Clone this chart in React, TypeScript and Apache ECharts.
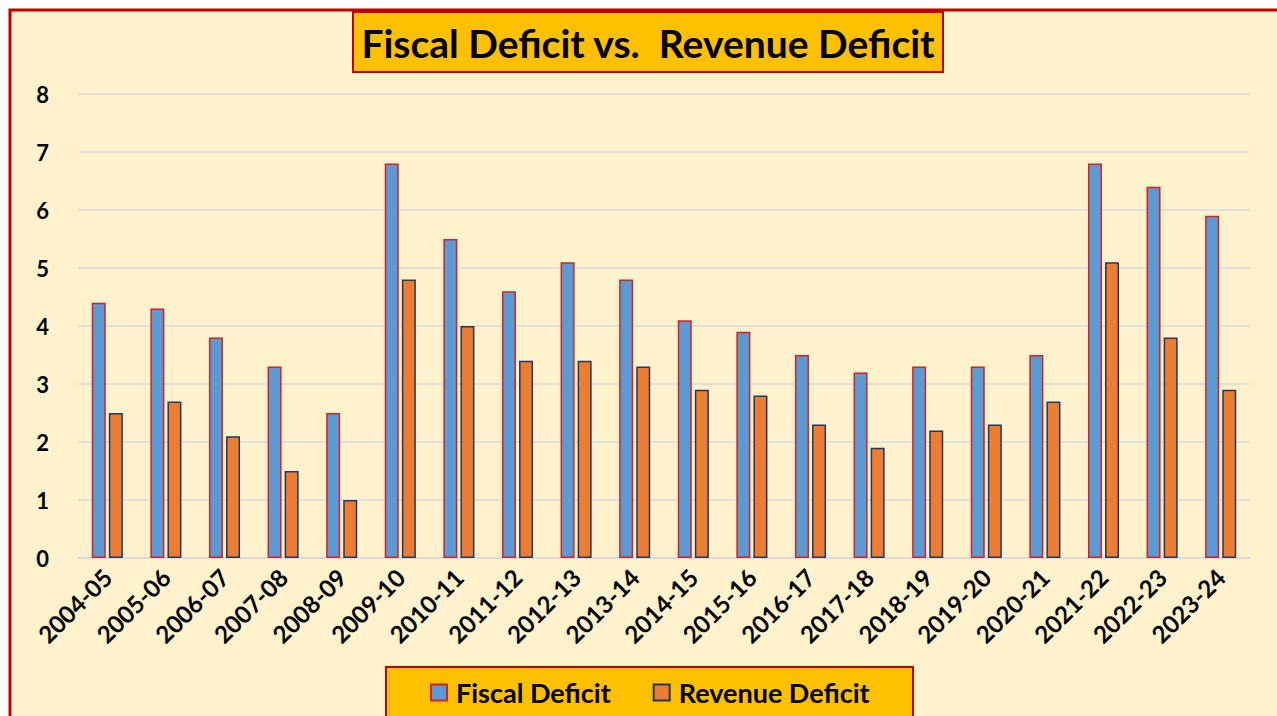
import React, { useEffect, useRef } from "react";
import * as echarts from "echarts";

const categories = [
  "2004-05", "2005-06", "2006-07", "2007-08", "2008-09", "2009-10", "2010-11",
  "2011-12", "2012-13", "2013-14", "2014-15", "2015-16", "2016-17", "2017-18",
  "2018-19", "2019-20", "2020-21", "2021-22", "2022-23", "2023-24",
];
const fiscalDeficit = [4.4, 4.3, 3.8, 3.3, 2.5, 6.8, 5.5, 4.6, 5.1, 4.8, 4.1, 3.9, 3.5, 3.2, 3.3, 3.3, 3.5, 6.8, 6.4, 5.9];
const revenueDeficit = [2.5, 2.7, 2.1, 1.5, 1.0, 4.8, 4.0, 3.4, 3.4, 3.3, 2.9, 2.8, 2.3, 1.9, 2.2, 2.3, 2.7, 5.1, 3.8, 2.9];
const titleText = "Fiscal Deficit vs.  Revenue Deficit";

const FONT = "Lato, 'DejaVu Sans', sans-serif";

export default function App() {
  const ref = useRef<HTMLDivElement>(null);
  useEffect(() => {
    document.body.style.margin = "0";
    const chart = echarts.init(ref.current!, null, { renderer: "svg" });
    chart.setOption({
      animation: false,
      backgroundColor: "#ffffff",
      textStyle: { fontFamily: FONT },
      graphic: [
        {
          type: "rect",
          z: -10,
          silent: true,
          shape: { x: 10, y: 10, width: 1300, height: 740 },
          style: { fill: "#FFF2CC", stroke: "#C00000", lineWidth: 3 },
        },
        {
          type: "rect",
          z: 10,
          shape: { x: 353, y: 12, width: 590, height: 60 },
          style: { fill: "#FFC000", stroke: "#C00000", lineWidth: 2 },
        },
        {
          type: "text",
          z: 11,
          x: 648,
          y: 43,
          style: {
            text: titleText,
            fill: "#000000",
            font: `bold 39px ${FONT}`,
            align: "center",
            verticalAlign: "middle",
          },
        },
        {
          type: "rect",
          z: 10,
          shape: { x: 386, y: 667, width: 527, height: 60 },
          style: { fill: "#FFC000", stroke: "#C00000", lineWidth: 2 },
        },
      ],
      legend: {
        z: 20,
        left: 425,
        top: 674,
        itemWidth: 16,
        itemHeight: 16,
        itemGap: 42,
        icon: "rect",
        textStyle: {
          fontFamily: FONT,
          fontWeight: "bold",
          fontSize: 27,
          color: "#000",
          padding: [0, 0, 0, 4],
        },
        data: ["Fiscal Deficit", "Revenue Deficit"],
      },
      grid: { left: 78, right: 27, top: 94, bottom: 158, containLabel: false },
      xAxis: {
        type: "category",
        data: categories,
        axisLine: { show: true, lineStyle: { color: "#D9D9E6", width: 1.5 } },
        axisTick: { show: false },
        axisLabel: {
          rotate: 45,
          margin: 15,
          interval: 0,
          fontFamily: FONT,
          fontWeight: "bold",
          fontSize: 24,
          color: "#000",
        },
      },
      yAxis: {
        type: "value",
        min: 0,
        max: 8,
        interval: 1,
        axisLine: { show: false },
        axisTick: { show: false },
        splitLine: { lineStyle: { color: "#D9D9E6", width: 1.5 } },
        axisLabel: {
          margin: 29,
          fontFamily: FONT,
          fontWeight: "bold",
          fontSize: 22,
          color: "#000",
        },
      },
      series: [
        {
          name: "Fiscal Deficit",
          type: "bar",
          data: fiscalDeficit,
          barWidth: 14,
          barGap: "22%",
          itemStyle: { color: "#5B9BD5", borderColor: "#D9201E", borderWidth: 1.5 },
        },
        {
          name: "Revenue Deficit",
          type: "bar",
          data: revenueDeficit,
          barWidth: 14,
          itemStyle: { color: "#ED7D31", borderColor: "#203864", borderWidth: 1.5 },
        },
      ],
    });
    return () => chart.dispose();
  }, []);
  return <div ref={ref} style={{ width: 1277, height: 716 }} />;
}
